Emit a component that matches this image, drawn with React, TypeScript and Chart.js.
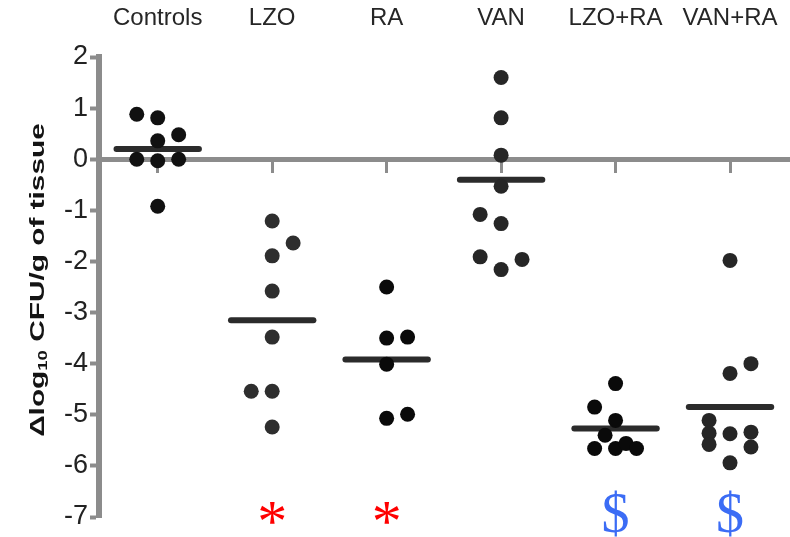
import { useEffect, useRef } from 'react';
import { Chart, registerables } from 'chart.js';

Chart.register(...registerables);

// ---------- data ----------
const categories = ['Controls', 'LZO', 'RA', 'VAN', 'LZO+RA', 'VAN+RA'];
const controlsValues = [0.88, 0.81, 0.48, 0.36, 0.0, -0.03, 0.0, -0.92];
const lzoValues = [-1.21, -1.64, -1.89, -2.58, -3.48, -4.54, -4.54, -5.24];
const raValues = [-2.5, -3.5, -3.48, -4.01, -5.07, -4.99];
const vanValues = [1.6, 0.81, 0.08, -0.53, -1.08, -1.26, -1.91, -1.96, -2.16];
const lzoRaValues = [-4.39, -4.85, -5.11, -5.4, -5.66, -5.66, -5.56, -5.66];
const vanRaValues = [-1.98, -4.0, -4.19, -5.11, -5.36, -5.37, -5.34, -5.58, -5.63, -5.94];
const groupMeans = [0.2, -3.15, -3.92, -0.4, -5.27, -4.85];
const significanceMarks = ['', '*', '*', '', '$', '$'];
const yMin = -7;
const yMax = 2;
const yStep = 1;

// ---------- layout (beeswarm slots, not data) ----------
const controlsSlots = [-1, 0, 1, 0, -1, 0, 1, 0];
const lzoSlots = [0, 1, 0, 0, 0, -1, 0, 0];
const raSlots = [0, 0, 1, 0, 0, 1];
const vanSlots = [0, 0, 0, 0, -1, 0, -1, 1, 0];
const lzoRaSlots = [0, -1, 0, -0.5, -1, 0, 0.5, 1];
const vanRaSlots = [0, 1, 0, -1, -1, 0, 1, -1, 1, 0];

const groups = [
  { values: controlsValues, slots: controlsSlots, color: '#111111' },
  { values: lzoValues, slots: lzoSlots, color: '#2e2e2e' },
  { values: raValues, slots: raSlots, color: '#0a0a0a' },
  { values: vanValues, slots: vanSlots, color: '#262626' },
  { values: lzoRaValues, slots: lzoRaSlots, color: '#0a0a0a' },
  { values: vanRaValues, slots: vanRaSlots, color: '#262626' },
];

const SLOT = 0.183;
const MEAN_HALF = 0.36;
const X_MIN = 0.487;
const X_MAX = 6.524;
const FONT = '"Liberation Sans", Arial, sans-serif';
const SERIF = '"Liberation Serif", "Times New Roman", serif';
const AXIS_GRAY = '#8c8c8c';
const markColors: Record<string, string> = { '*': '#ff0000', $: '#3b6cf5' };

const titlePlugin = {
  id: 'yTitle',
  afterDraw(chart: any) {
    const { ctx, chartArea } = chart;
    const cx = 38;
    const cy = (chartArea.top + chartArea.bottom) / 2 - 7;
    const parts = [
      { text: 'Δlog', font: `bold 21px ${FONT}`, dy: 0 },
      { text: '10', font: `bold 13px ${FONT}`, dy: 5 },
      { text: ' CFU/g of tissue', font: `bold 21px ${FONT}`, dy: 0 },
    ];
    ctx.save();
    ctx.translate(cx, cy);
    ctx.rotate(-Math.PI / 2);
    ctx.scale(1.42, 1);
    ctx.fillStyle = '#141414';
    ctx.textBaseline = 'middle';
    ctx.textAlign = 'left';
    let total = 0;
    const widths = parts.map((p) => {
      ctx.font = p.font;
      const w = ctx.measureText(p.text).width;
      total += w;
      return w;
    });
    let x = -total / 2;
    parts.forEach((p, i) => {
      ctx.font = p.font;
      ctx.fillText(p.text, x, p.dy);
      x += widths[i];
    });
    ctx.restore();
  },
};

const marksPlugin = {
  id: 'sigMarks',
  afterDraw(chart: any) {
    const { ctx, chartArea, scales } = chart;
    ctx.save();
    ctx.textAlign = 'center';
    ctx.textBaseline = 'alphabetic';
    significanceMarks.forEach((m, i) => {
      if (!m) return;
      ctx.font = m === '*' ? `60px ${SERIF}` : `56px ${SERIF}`;
      ctx.fillStyle = markColors[m];
      const met = ctx.measureText(m);
      const cyT = chartArea.bottom - 4;
      const base = cyT + (met.actualBoundingBoxAscent - met.actualBoundingBoxDescent) / 2;
      ctx.fillText(m, scales.x.getPixelForValue(i + 1), base);
    });
    ctx.restore();
  },
};

export default function App() {
  const ref = useRef<HTMLCanvasElement>(null);

  useEffect(() => {
    const pointSets = groups.map((g, gi) => ({
      type: 'scatter' as const,
      data: g.values.map((v, j) => ({ x: gi + 1 + g.slots[j] * SLOT, y: v })),
      pointRadius: 7.5,
      pointHoverRadius: 7.5,
      pointBackgroundColor: g.color,
      pointBorderWidth: 0,
      showLine: false,
      order: 1,
    }));
    const meanSets = groupMeans.map((m, gi) => ({
      type: 'line' as const,
      data: [
        { x: gi + 1 - MEAN_HALF, y: m },
        { x: gi + 1 + MEAN_HALF, y: m },
      ],
      borderColor: '#2b2b2b',
      borderWidth: 6,
      borderCapStyle: 'round' as const,
      pointRadius: 0,
      showLine: true,
      order: 2,
    }));

    const catTicks = () => categories.map((_, i) => ({ value: i + 1 }));

    const chart = new Chart(ref.current!, {
      type: 'scatter',
      data: { datasets: [...pointSets, ...meanSets] as any },
      options: {
        animation: false,
        responsive: true,
        maintainAspectRatio: false,
        layout: { autoPadding: false, padding: { left: 0, right: 0, top: 0, bottom: 20 } },
        plugins: { legend: { display: false }, tooltip: { enabled: false } },
        scales: {
          x: {
            type: 'linear',
            position: 'top',
            min: X_MIN,
            max: X_MAX,
            afterBuildTicks: (s: any) => {
              s.ticks = catTicks();
            },
            afterFit: (s: any) => {
              s.height = 57;
              s.paddingLeft = 0;
              s.paddingRight = 0;
            },
            ticks: {
              autoSkip: false,
              maxRotation: 0,
              padding: 24,
              color: '#262626',
              font: { family: FONT, size: 24 },
              callback: (v: any) => categories[Math.round(Number(v)) - 1] ?? '',
            },
            grid: { display: false, drawTicks: false },
            border: { display: false },
          },
          x2: {
            type: 'linear',
            position: { y: 0 } as any,
            min: X_MIN,
            max: X_MAX,
            z: 1,
            afterBuildTicks: (s: any) => {
              s.ticks = catTicks();
            },
            afterFit: (s: any) => {
              s.paddingLeft = 0;
              s.paddingRight = 0;
            },
            ticks: { display: false },
            grid: {
              display: true,
              drawOnChartArea: false,
              drawTicks: true,
              tickLength: 11,
              tickWidth: 3,
              tickColor: AXIS_GRAY,
              color: AXIS_GRAY,
            },
            border: { display: true, color: AXIS_GRAY, width: 5 },
          },
          y: {
            type: 'linear',
            min: yMin,
            max: yMax,
            afterFit: (s: any) => {
              s.width = 99;
              s.paddingTop = 0;
              s.paddingBottom = 0;
            },
            ticks: {
              stepSize: yStep,
              padding: 2,
              color: '#222222',
              font: { family: FONT, size: 27 },
              callback: (v: any) => String(v),
            },
            grid: {
              display: true,
              drawOnChartArea: false,
              drawTicks: true,
              tickLength: 9,
              tickWidth: 4,
              tickColor: AXIS_GRAY,
              color: AXIS_GRAY,
            },
            border: { display: true, color: AXIS_GRAY, width: 6 },
          },
        },
      },
      plugins: [titlePlugin, marksPlugin],
    });
    return () => chart.destroy();
  }, []);

  return (
    <div style={{ position: 'fixed', left: 0, top: 0, width: 790, height: 537, background: '#ffffff' }}>
      <canvas ref={ref} />
    </div>
  );
}
